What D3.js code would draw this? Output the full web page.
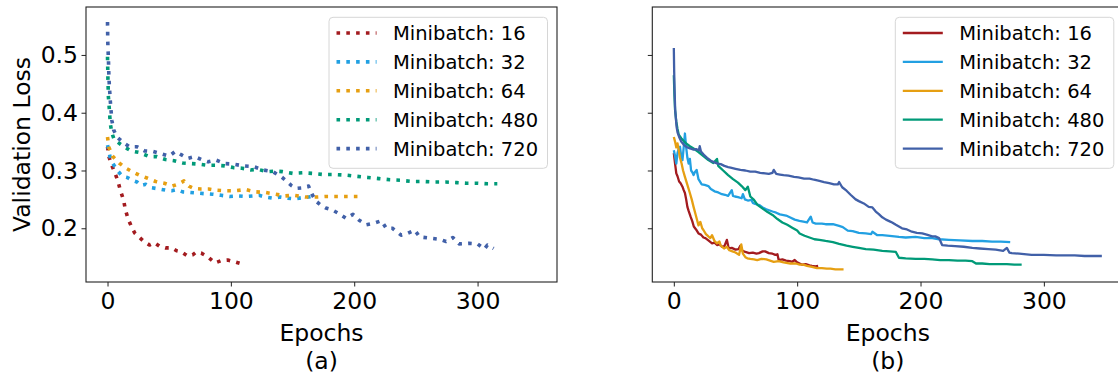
<!DOCTYPE html>
<html><head><meta charset="utf-8">
<script src="https://cdn.jsdelivr.net/npm/d3@7"></script>
<style>
html,body{margin:0;padding:0;background:#fff;}
svg{display:block;font-family:"DejaVu Sans",sans-serif;}
</style></head>
<body>
<svg id="chart" width="1118" height="376"></svg>
<script>
// ---------------- data ----------------
const seriesNames = ["Minibatch: 16", "Minibatch: 32", "Minibatch: 64", "Minibatch: 480", "Minibatch: 720"];
const seriesColors = ["#a31b1f", "#22a0e2", "#e69f12", "#009a78", "#4160a8"];
const xTicks = [0, 100, 200, 300];
const yTicks = [0.2, 0.3, 0.4, 0.5];
const panelLabels = ["(a)", "(b)"];
const xLabel = "Epochs";
const yLabel = "Validation Loss";

// panel (a): [epoch, loss]
const aLoss16 = [[0,0.341],[1,0.325],[3,0.311],[6,0.296],[8.5,0.281],[10.5,0.265],[13,0.249],[14.5,0.232],[16.7,0.216],[20,0.200],[22,0.192],[25.5,0.185],[29,0.178],[34,0.171],[38,0.175],[42,0.169],[47,0.166],[52,0.166],[56,0.161],[60,0.159],[65,0.152],[69,0.154],[72,0.159],[76,0.157],[81,0.151],[87,0.140],[92,0.144],[97.5,0.145],[103,0.142],[109,0.138]];
const aLoss32 = [[0,0.344],[1,0.335],[2.5,0.318],[5,0.310],[8,0.300],[12,0.290],[16,0.288],[20,0.283],[24,0.280],[27,0.274],[31,0.276],[36,0.270],[42,0.268],[47,0.266],[52,0.265],[56,0.267],[61,0.263],[67,0.262],[72,0.261],[78,0.260],[85,0.259],[92,0.257],[99,0.255],[105,0.256],[112,0.255],[118,0.256],[123,0.257],[128,0.254],[134,0.252],[140,0.254],[146,0.252],[152,0.251],[158,0.253],[163,0.254],[166,0.255]];
const aLoss64 = [[0,0.358],[1,0.341],[4,0.325],[9.4,0.313],[15,0.304],[20,0.298],[25.6,0.292],[32,0.287],[39,0.281],[46,0.278],[52.6,0.273],[58,0.277],[62,0.282],[66,0.273],[70,0.269],[75.6,0.268],[82,0.268],[87.7,0.266],[96,0.265],[104,0.265],[112,0.267],[120,0.263],[128,0.262],[136,0.259],[144,0.256],[151,0.257],[160.5,0.254],[169,0.254],[177,0.255],[185,0.255],[194,0.255],[203,0.255]];
const aLoss480 = [[0,0.497],[0.3,0.462],[0.7,0.428],[1.5,0.405],[2.2,0.382],[3.5,0.365],[5.5,0.353],[9.5,0.347],[13.5,0.341],[19,0.334],[26,0.331],[34,0.324],[40,0.324],[47,0.319],[54,0.317],[61,0.313],[68,0.312],[74,0.311],[81,0.309],[88,0.309],[95,0.308],[102,0.305],[109,0.304],[116,0.301],[122,0.302],[129,0.298],[136,0.299],[142,0.298],[150,0.295],[158,0.296],[166,0.295],[175,0.293],[184,0.293],[193,0.292],[202,0.290],[211,0.288],[220,0.286],[229,0.284],[238,0.283],[247,0.281],[256,0.281],[265,0.280],[274,0.280],[283,0.279],[291,0.278],[300,0.278],[308,0.277],[316,0.277]];
const aLoss720 = [[0,0.557],[0.1,0.540],[0.2,0.523],[0.5,0.505],[0.8,0.488],[1.0,0.471],[1.3,0.454],[1.8,0.436],[2.3,0.419],[2.8,0.405],[3.5,0.387],[5,0.370],[7.6,0.358],[13,0.348],[18,0.341],[24,0.341],[30,0.334],[37,0.333],[43.6,0.329],[50,0.325],[55,0.333],[60,0.327],[65,0.321],[70.6,0.324],[76,0.319],[81.6,0.315],[88,0.318],[95,0.312],[102,0.311],[110,0.308],[118,0.307],[126,0.301],[134,0.298],[141,0.289],[145,0.282],[149,0.274],[153,0.269],[158,0.270],[163,0.273],[166,0.258],[169,0.247],[173,0.240],[177,0.235],[182,0.232],[187,0.226],[193.5,0.217],[199,0.224],[204,0.214],[209.7,0.206],[216.4,0.209],[222,0.213],[226,0.200],[231,0.200],[238,0.188],[243,0.191],[249,0.197],[253,0.185],[261,0.183],[269,0.181],[274.5,0.177],[280,0.184],[285,0.173],[293,0.174],[300,0.173],[305.5,0.164],[308,0.171],[313,0.165]];

// panel (b): [epoch, loss]
const bLoss16 = [[0,0.330],[1,0.312],[2,0.295],[3,0.290],[4.3,0.281],[5.5,0.278],[7,0.272],[8,0.266],[9,0.261],[10,0.250],[11,0.237],[12,0.230],[13.6,0.220],[15,0.212],[16.2,0.203],[18,0.198],[20,0.191],[22,0.189],[24,0.184],[25.6,0.183],[28,0.179],[31,0.174],[33,0.175],[35,0.171],[37,0.172],[39,0.168],[41,0.169],[43,0.180],[44.5,0.165],[47,0.166],[50,0.163],[52.5,0.164],[54,0.170],[55,0.162],[58,0.159],[61,0.157],[64,0.158],[67,0.156],[69,0.157],[72,0.160],[74,0.160],[77,0.157],[80,0.156],[82.3,0.154],[84,0.155],[85,0.145],[88,0.146],[91,0.144],[94,0.143],[96,0.142],[98,0.145],[100,0.141],[102,0.139],[104,0.137],[107,0.138],[110,0.136],[112,0.135],[114.7,0.134],[117,0.135]];
const bLoss32 = [[0,0.335],[1,0.325],[2,0.312],[3,0.330],[4,0.338],[5,0.341],[6,0.325],[7,0.318],[8,0.340],[9,0.364],[10,0.340],[11,0.322],[12,0.312],[13,0.320],[14,0.300],[15,0.297],[16,0.292],[17,0.297],[18.5,0.301],[20,0.285],[22.6,0.276],[25,0.275],[28,0.273],[30,0.268],[33,0.264],[36,0.262],[39,0.259],[41.5,0.258],[44,0.256],[47,0.266],[48,0.256],[49.5,0.255],[52,0.254],[55,0.252],[56,0.259],[57.6,0.250],[60,0.248],[63,0.249],[64,0.244],[66,0.242],[69.5,0.240],[72,0.236],[75,0.233],[80,0.229],[83,0.227],[86,0.224],[91,0.222],[94,0.219],[98,0.215],[101.8,0.213],[104,0.212],[108,0.210],[111,0.220],[112.5,0.210],[115,0.208],[120,0.208],[123,0.207],[129,0.207],[134,0.204],[137,0.202],[141,0.196],[145,0.195],[150,0.192],[155.6,0.191],[160,0.190],[161,0.194],[165,0.188],[169,0.188],[175,0.187],[182.5,0.185],[188,0.184],[196,0.185],[203,0.183],[209.5,0.183],[215,0.181],[223,0.180],[232,0.179],[242,0.178],[250,0.178],[258,0.177],[265,0.177],[272.7,0.176]];
const bLoss64 = [[0,0.358],[1,0.350],[2,0.340],[3,0.347],[4,0.335],[5,0.322],[6.3,0.312],[7.5,0.300],[9,0.289],[11,0.275],[13,0.261],[14.5,0.250],[16,0.237],[17.5,0.225],[18.9,0.214],[20,0.205],[21.5,0.211],[23,0.200],[24,0.197],[26,0.190],[28,0.186],[29.6,0.183],[31,0.188],[33,0.178],[35,0.174],[37,0.177],[38,0.170],[40.7,0.165],[43,0.168],[45,0.162],[47.5,0.160],[50,0.158],[52.9,0.154],[54.7,0.172],[56,0.156],[58,0.150],[59.6,0.148],[62,0.147],[65,0.146],[67.6,0.145],[71,0.147],[75,0.146],[78,0.144],[81,0.142],[85,0.143],[89,0.141],[94.5,0.139],[99,0.139],[102,0.137],[105,0.137],[108,0.135],[112,0.133],[116,0.131],[120,0.131],[124,0.130],[127,0.130],[131,0.129],[135.7,0.129],[137.6,0.129]];
const bLoss480 = [[0,0.465],[0.5,0.430],[1,0.405],[2,0.385],[3,0.372],[4,0.362],[6,0.356],[8,0.351],[10,0.347],[13,0.342],[16,0.338],[20,0.332],[24,0.325],[28,0.318],[32,0.313],[35,0.320],[36,0.308],[40,0.300],[44,0.292],[48,0.285],[52,0.279],[55,0.273],[58,0.266],[60,0.272],[62,0.255],[65,0.249],[68,0.240],[72,0.234],[76,0.228],[80,0.223],[84,0.216],[88,0.210],[92,0.206],[96,0.201],[100,0.196],[102,0.191],[106,0.187],[110,0.184],[114,0.181],[118,0.180],[123,0.178],[129,0.176],[134,0.173],[140,0.170],[145,0.168],[150,0.166],[155.6,0.164],[162,0.163],[169,0.161],[175,0.160],[180,0.159],[182.5,0.149],[188,0.148],[196,0.147],[203,0.147],[209.5,0.146],[216,0.145],[223,0.145],[230,0.144],[236.5,0.144],[242,0.143],[245,0.139],[250,0.139],[256,0.138],[263,0.138],[270,0.138],[276,0.137],[282,0.137]];
const bLoss720 = [[0,0.512],[0.3,0.470],[0.6,0.440],[1.1,0.405],[2.2,0.376],[3,0.366],[4.3,0.358],[6,0.350],[8.3,0.344],[11,0.340],[13.6,0.338],[16,0.336],[18,0.337],[20.3,0.335],[21,0.342],[22,0.333],[24.8,0.326],[27,0.322],[30,0.317],[33,0.314],[35.5,0.312],[38,0.311],[41,0.308],[44,0.306],[46,0.305],[50,0.303],[54,0.301],[58,0.300],[62,0.298],[66,0.298],[70,0.296],[74,0.295],[77,0.294],[80,0.296],[81,0.301],[83,0.294],[86,0.293],[89,0.292],[93,0.291],[97.5,0.289],[101,0.288],[105.6,0.286],[110,0.286],[113.7,0.284],[118,0.282],[121.8,0.280],[126,0.278],[129.8,0.276],[133,0.276],[134,0.280],[136.5,0.271],[140,0.265],[143.3,0.258],[147.4,0.250],[150,0.247],[154,0.243],[158,0.237],[161,0.236],[163.7,0.229],[166,0.225],[169,0.219],[172,0.215],[175,0.212],[177,0.210],[180,0.206],[185,0.200],[189,0.198],[193,0.194],[197,0.192],[201.4,0.191],[205,0.189],[209.5,0.186],[212,0.186],[215,0.183],[217.5,0.171],[222,0.170],[228,0.169],[235,0.168],[242,0.166],[248,0.165],[255,0.164],[261,0.163],[267,0.161],[270,0.166],[272,0.158],[274,0.157],[280,0.156],[290,0.154],[300,0.154],[310,0.153],[317,0.153],[325,0.153],[333,0.152],[340,0.152],[347,0.152]];

const panelA = [aLoss16, aLoss32, aLoss64, aLoss480, aLoss720];
const panelB = [bLoss16, bLoss32, bLoss64, bLoss480, bLoss720];

// ---------------- drawing ----------------
const svg = d3.select("#chart");
const plotTop = 7, plotBottom = 282;
const xDomain = [-17.45, 364.4], yDomain = [0.107, 0.583];
const FS = 23.5, LFS = 19.5;

function panel(idx, left, data, dotted, showYLabels) {
  const right = left + 471;
  const x = d3.scaleLinear().domain(xDomain).range([left, right]);
  const y = d3.scaleLinear().domain(yDomain).range([plotBottom, plotTop]);
  const g = svg.append("g");
  const clipId = "clip" + idx;
  svg.append("clipPath").attr("id", clipId).append("rect")
    .attr("x", left).attr("y", plotTop).attr("width", right - left).attr("height", plotBottom - plotTop);

  const line = d3.line().x(d => x(d[0])).y(d => y(d[1]));
  const lg = g.append("g").attr("clip-path", `url(#${clipId})`);
  data.forEach((s, i) => {
    lg.append("path").datum(s).attr("d", line)
      .attr("fill", "none").attr("stroke", seriesColors[i])
      .attr("stroke-width", dotted ? 3.6 : 2.3)
      .attr("stroke-linejoin", "round")
      .attr("stroke-dasharray", dotted ? "3.6,6.2" : null);
  });

  const xa = g.append("g").attr("transform", `translate(0,${plotBottom})`)
    .call(d3.axisBottom(x).tickValues(xTicks).tickSize(4.5).tickPadding(6).tickFormat(d3.format("d")));
  const ya = g.append("g").attr("transform", `translate(${left},0)`)
    .call(d3.axisLeft(y).tickValues(yTicks).tickSize(4.5).tickPadding(3.5)
      .tickFormat(showYLabels ? d3.format(".1f") : () => ""));
  [xa, ya].forEach(a => {
    a.select(".domain").remove();
    a.selectAll("line").attr("stroke", "#222").attr("stroke-width", 1);
    a.selectAll("text").attr("font-size", FS).attr("fill", "#000").attr("font-family", "DejaVu Sans");
  });
  g.append("rect").attr("x", left).attr("y", plotTop).attr("width", right - left).attr("height", plotBottom - plotTop)
    .attr("fill", "none").attr("stroke", "#222").attr("stroke-width", 1.1);

  const cx = (left + right) / 2;
  g.append("text").attr("x", cx).attr("y", 341).attr("text-anchor", "middle")
    .attr("font-size", FS).text(xLabel);
  g.append("text").attr("x", cx).attr("y", 369).attr("text-anchor", "middle")
    .attr("font-size", FS).text(panelLabels[idx]);
  if (showYLabels) {
    g.append("text").attr("transform", `translate(30,${(plotTop + plotBottom) / 2}) rotate(-90)`)
      .attr("text-anchor", "middle").attr("font-size", FS).text(yLabel);
  }

  const lw = 218.5, lh = 151, lx = right - 9.5 - lw, ly = 17.3;
  const leg = g.append("g");
  leg.append("rect").attr("x", lx).attr("y", ly).attr("width", lw).attr("height", lh)
    .attr("rx", 4).attr("fill", "rgba(255,255,255,0.8)").attr("stroke", "#d6d6d6").attr("stroke-width", 1);
  seriesNames.forEach((n, i) => {
    const cy = 33 + i * 28.9;
    leg.append("line").attr("x1", lx + 7.5).attr("x2", lx + 47.5).attr("y1", cy).attr("y2", cy)
      .attr("stroke", seriesColors[i]).attr("stroke-width", dotted ? 3.6 : 2.3)
      .attr("stroke-dasharray", dotted ? "3.6,6.2" : null);
    leg.append("text").attr("x", lx + 64).attr("y", cy).attr("dy", "0.36em")
      .attr("font-size", LFS).attr("fill", "#000").text(n);
  });
}

panel(0, 86, panelA, true, true);
panel(1, 652.3, panelB, false, false);
</script>
</body></html>
